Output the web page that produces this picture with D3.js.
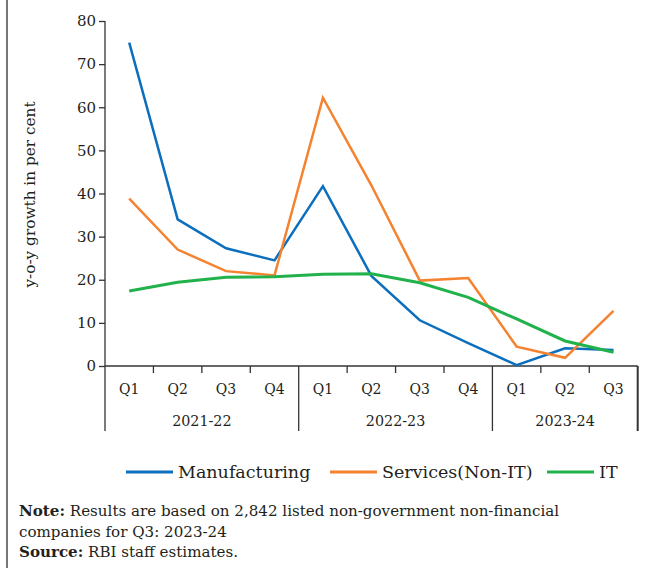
<!DOCTYPE html>
<html>
<head>
<meta charset="utf-8">
<script src="https://cdn.jsdelivr.net/npm/d3@7"></script>
<style>
  body { margin: 0; background: #fff; }
  svg text { font-family: "DejaVu Serif", "Liberation Serif", serif; fill: #231f20; }
  .axis path, .axis line { stroke: #333; }
</style>
</head>
<body>
<div id="chart-area"></div>
<script>
// quarters and the fiscal year each belongs to
let quarters = ["Q1", "Q2", "Q3", "Q4", "Q1", "Q2", "Q3", "Q4", "Q1", "Q2", "Q3"];
let fiscalYears = ["2021-22", "2021-22", "2021-22", "2021-22",
                   "2022-23", "2022-23", "2022-23", "2022-23",
                   "2023-24", "2023-24", "2023-24"];

// y-o-y growth in per cent
let manufacturing = [75, 34, 27.3, 24.5, 41.7, 20.9, 10.6, 5.3, 0.2, 4.1, 3.7];
let services = [38.8, 27, 22, 21, 62.2, 41.9, 19.8, 20.4, 4.5, 1.9, 12.8];
let itSector = [17.4, 19.4, 20.6, 20.7, 21.3, 21.4, 19.3, 15.9, 10.9, 5.8, 3.2];

let seriesNames = ["Manufacturing", "Services(Non-IT)", "IT"];
let yTicks = [0, 10, 20, 30, 40, 50, 60, 70, 80];

let colors = ["#0c6fbd", "#f4822f", "#22b24c"];

let W = 647, H = 568;
let margin = {top: 21, right: 9.3, bottom: 202, left: 105},
  width = W - margin.left - margin.right,
  height = H - margin.top - margin.bottom;

let svg = d3.select("#chart-area")
  .append("svg")
  .attr("width", W)
  .attr("height", H);

// frame line on the left
svg.append("line")
  .attr("x1", 7).attr("x2", 7)
  .attr("y1", 0).attr("y2", H)
  .attr("stroke", "#555")
  .attr("stroke-width", 1.6);

let g = svg.append("g")
  .attr("transform", "translate(" + margin.left + "," + margin.top + ")");

let idx = d3.range(quarters.length);

let x = d3.scaleBand()
  .domain(idx)
  .range([0, width])
  .padding(0);

let y = d3.scaleLinear()
  .domain([0, 80])
  .range([height, 0]);

// ---- Y AXIS ----
let yAxis = d3.axisLeft(y)
  .tickValues(yTicks)
  .tickSize(6)
  .tickPadding(3);

let yAxisGroup = g.append("g")
  .attr("class", "y-axis axis")
  .call(yAxis);
yAxisGroup.attr("font-family", null).attr("font-size", null);
yAxisGroup.select(".domain").attr("stroke-width", 1.3).attr("d", "M0," + height + "V0");
yAxisGroup.selectAll(".tick line").attr("stroke-width", 1.3);
yAxisGroup.selectAll("text")
  .style("font-size", "15px")
  .attr("fill", "#231f20");

// ---- X AXIS (quarters + fiscal year groups) ----
let xg = g.append("g")
  .attr("class", "x-axis axis")
  .attr("transform", "translate(0," + height + ")");

xg.append("line")
  .attr("x1", 0).attr("x2", width)
  .attr("y1", 0).attr("y2", 0)
  .attr("stroke", "#333").attr("stroke-width", 1.3);

// boundaries between quarters
let boundaries = d3.range(quarters.length + 1);
xg.selectAll(".qtick")
  .data(boundaries)
  .enter()
  .append("line")
  .attr("class", "qtick")
  .attr("x1", function(i) { return i < quarters.length ? x(i) : width; })
  .attr("x2", function(i) { return i < quarters.length ? x(i) : width; })
  .attr("y1", 0)
  .attr("y2", function(i) {
    let groupEdge = i == 0 || i == quarters.length || fiscalYears[i] != fiscalYears[i - 1];
    return groupEdge ? 65 : 7;
  })
  .attr("stroke", function(i) { return i == quarters.length ? "#777" : "#333"; })
  .attr("stroke-width", function(i) { return i == quarters.length ? 2 : 1.3; });

xg.selectAll(".qlabel")
  .data(idx)
  .enter()
  .append("text")
  .attr("class", "qlabel")
  .attr("x", function(i) { return x(i) + x.bandwidth() / 2; })
  .attr("y", 28)
  .style("text-anchor", "middle")
  .style("font-size", "14px")
  .text(function(i) { return quarters[i]; });

let groups = d3.groups(idx, function(i) { return fiscalYears[i]; });
xg.selectAll(".ylabel")
  .data(groups)
  .enter()
  .append("text")
  .attr("class", "ylabel")
  .attr("x", function(d) {
    let first = d[1][0], last = d[1][d[1].length - 1];
    return (x(first) + x(last) + x.bandwidth()) / 2;
  })
  .attr("y", 60)
  .style("text-anchor", "middle")
  .style("font-size", "14.3px")
  .text(function(d) { return d[0]; });

// y axis title
g.append("text")
  .attr("transform", "rotate(-90)")
  .attr("x", -(height / 2) - 1)
  .attr("y", -margin.left + 30)
  .attr("dy", "0.35em")
  .style("text-anchor", "middle")
  .style("font-size", "15.3px")
  .text("y-o-y growth in per cent");

// ---- LINES ----
let allSeries = [manufacturing, services, itSector];

let line = d3.line()
  .x(function(d, i) { return x(i) + x.bandwidth() / 2; })
  .y(function(d) { return y(d); });

g.selectAll(".series")
  .data(allSeries)
  .enter()
  .append("path")
  .attr("class", "series")
  .attr("fill", "none")
  .attr("stroke", function(d, i) { return colors[i]; })
  .attr("stroke-width", function(d, i) { return i == 2 ? 3 : 2.5; })
  .attr("stroke-linejoin", "miter")
  .attr("d", line);

// ---- LEGEND ----
let legendX = [126, 330, 547];
let legend = svg.selectAll(".legend")
  .data(seriesNames)
  .enter()
  .append("g")
  .attr("class", "legend")
  .attr("transform", function(d, i) { return "translate(" + legendX[i] + ",472)"; });

legend.append("line")
  .attr("x1", 0).attr("x2", 47)
  .attr("y1", 0).attr("y2", 0)
  .attr("stroke", function(d, i) { return colors[i]; })
  .attr("stroke-width", 3);

legend.append("text")
  .attr("x", 52)
  .attr("y", 6)
  .style("font-size", "17.5px")
  .text(function(d) { return d; });

// ---- NOTES ----
let notes = svg.append("g").style("font-size", "15.1px");
let n1 = notes.append("text").attr("x", 19).attr("y", 516);
n1.append("tspan").style("font-weight", "bold").text("Note:");
n1.append("tspan").text(" Results are based on 2,842 listed non-government non-financial");
notes.append("text").attr("x", 19).attr("y", 537).text("companies for Q3: 2023-24");
let n3 = notes.append("text").attr("x", 19).attr("y", 557);
n3.append("tspan").style("font-weight", "bold").text("Source:");
n3.append("tspan").text(" RBI staff estimates.");
</script>
</body>
</html>
